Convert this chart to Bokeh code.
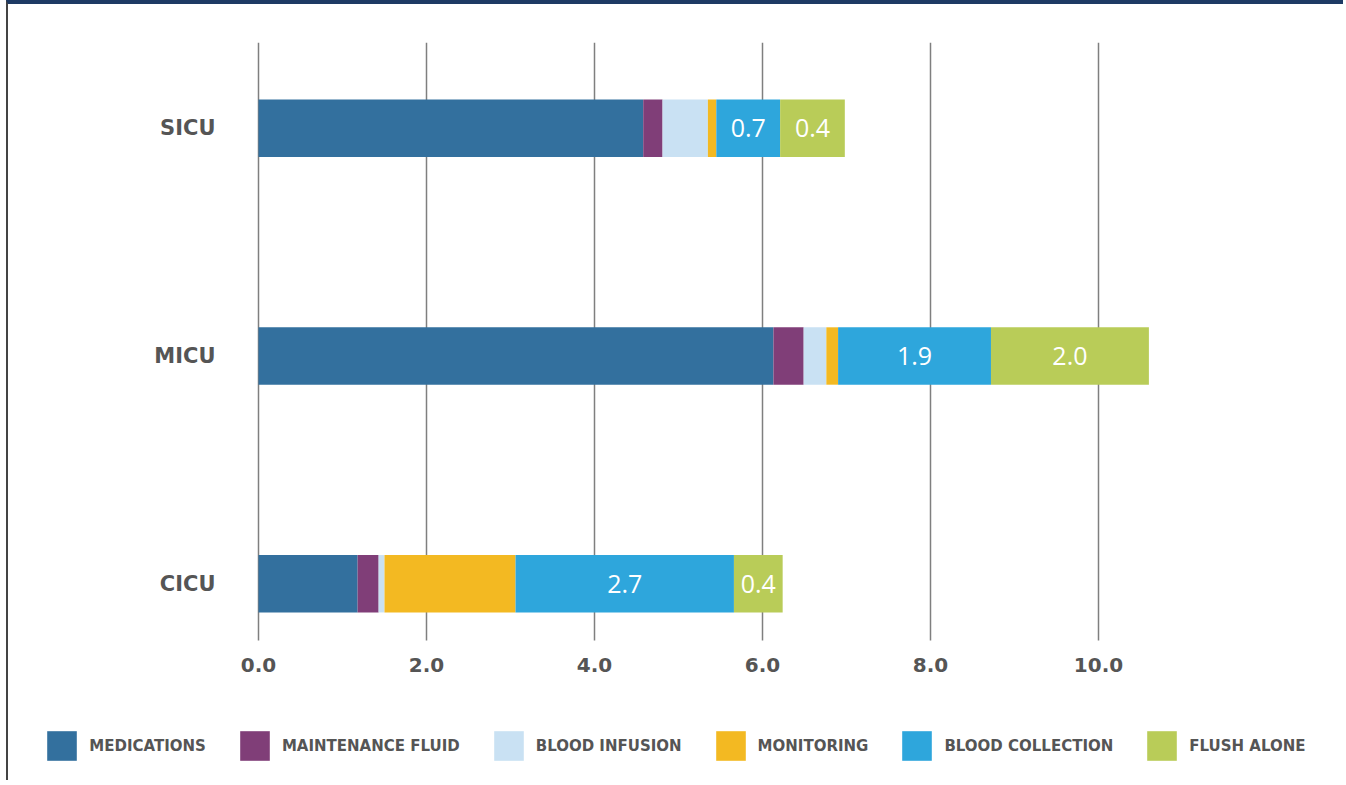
from bokeh.plotting import figure
from bokeh.models import (Range1d, FixedTicker, PrintfTickFormatter, Legend,
                          LegendItem, ColumnDataSource, BoxAnnotation)
from bokeh.embed import file_html
from bokeh.resources import INLINE
from bokeh.core.properties import value

# ---------------- data ----------------
units = ["SICU", "MICU", "CICU"]
medications = [4.58, 6.13, 1.18]
maintenance_fluid = [0.23, 0.36, 0.25]
blood_infusion = [0.54, 0.27, 0.07]
monitoring = [0.10, 0.14, 1.56]
blood_collection = [0.76, 1.82, 2.60]
flush_alone = [0.77, 1.88, 0.58]
blood_collection_labels = ["0.7", "1.9", "2.7"]
flush_alone_labels = ["0.4", "2.0", "0.4"]
series_names = ["MEDICATIONS", "MAINTENANCE FLUID", "BLOOD INFUSION",
                "MONITORING", "BLOOD COLLECTION", "FLUSH ALONE"]
colors = ["#33709E", "#803E78", "#C9E1F3", "#F3B922", "#2EA6DC", "#B9CC58"]
x_ticks = [0, 2, 4, 6, 8, 10]

# ---------------- layout constants ----------------
W, H = 1337, 780
PX_PER_UNIT = 84.0
ZERO_PX = 250
TOP = 38
Y_PX = 227.75          # px per category step
Y0_PX = 579.25         # screen y of the first category (from canvas top)
AXIS_PX = 636          # screen y where the grid lines stop / x axis sits
y_top = (Y0_PX - TOP) / Y_PX
y_bottom = -(H - Y0_PX) / Y_PX
y_axis_at = -(AXIS_PX - Y0_PX) / Y_PX

positions = [len(units) - 1 - i for i in range(len(units))]
series = [medications, maintenance_fluid, blood_infusion, monitoring,
          blood_collection, flush_alone]
keys = ["s%d" % i for i in range(len(series))]
data = {"pos": positions}
for k, s in zip(keys, series):
    data[k] = s
src = ColumnDataSource(data)

p = figure(width=W, height=H, output_backend="svg", toolbar_location=None,
           x_range=Range1d(-ZERO_PX / PX_PER_UNIT, (W - ZERO_PX) / PX_PER_UNIT),
           y_range=Range1d(y_bottom, y_top),
           min_border_left=0, min_border_right=0, min_border_top=TOP,
           min_border_bottom=0)
p.styles = {"border-top": "4px solid #1E3A64", "border-left": "2px solid #444444",
            "margin-left": "6px"}
p.outline_line_color = None
p.background_fill_color = "white"
p.border_fill_color = "white"

# grid
p.ygrid.grid_line_color = None
p.xgrid.ticker = FixedTicker(ticks=x_ticks)
p.xgrid.grid_line_color = "#7f7f7f"
p.xgrid.grid_line_width = 1.5
# hide grid lines below the axis
p.add_layout(BoxAnnotation(top=y_axis_at, fill_color="white", fill_alpha=1,
                           line_color=None, level="underlay"))

renderers = p.hbar_stack(keys, y="pos", height=0.252, source=src,
                         fill_color=colors, line_color=None)

# value labels
def mids(idx):
    out = []
    for j in range(len(units)):
        left = sum(series[i][j] for i in range(idx))
        out.append(left + series[idx][j] / 2)
    return out

lab_font = value("Open Sans")
p.text(x=mids(4), y=positions, text=blood_collection_labels, text_color="white",
       text_font=lab_font, text_font_size="25px", text_align="center",
       text_baseline="middle")
p.text(x=mids(5), y=positions, text=flush_alone_labels, text_color="white",
       text_font=lab_font, text_font_size="25px", text_align="center",
       text_baseline="middle")

# x axis
xa = p.xaxis[0]
xa.fixed_location = y_axis_at
xa.ticker = FixedTicker(ticks=x_ticks)
xa.formatter = PrintfTickFormatter(format="%.1f")
xa.axis_line_color = None
xa.major_tick_line_color = None
xa.minor_tick_line_color = None
xa.major_tick_out = 0
xa.major_tick_in = 0
xa.major_label_standoff = 17
xa.major_label_text_font = "DejaVu Sans"
xa.major_label_text_font_style = "bold"
xa.major_label_text_font_size = "20px"
xa.major_label_text_color = "#555555"

# y axis
ya = p.yaxis[0]
ya.fixed_location = 0
ya.ticker = FixedTicker(ticks=positions)
ya.major_label_overrides = {pos: name for pos, name in zip(positions, units)}
ya.axis_line_color = None
ya.major_tick_line_color = None
ya.minor_tick_line_color = None
ya.major_tick_out = 0
ya.major_tick_in = 0
ya.major_label_standoff = 43
ya.major_label_text_font = "DejaVu Sans"
ya.major_label_text_font_style = "bold"
ya.major_label_text_font_size = "21px"
ya.major_label_text_color = "#555555"

# legend
items = [LegendItem(label=n, renderers=[r]) for n, r in zip(series_names, renderers)]
legend = Legend(items=items, orientation="horizontal", location=(35.3, 19.7),
                glyph_width=37, glyph_height=37, label_standoff=9, spacing=30,
                padding=0, margin=0, border_line_color=None,
                background_fill_alpha=0,
                label_text_font="DejaVu Sans", label_text_font_style="bold",
                label_text_font_size="15px", label_text_color="#555555")
p.add_layout(legend, "center")

open("out.html", "w").write(file_html(p, INLINE))
